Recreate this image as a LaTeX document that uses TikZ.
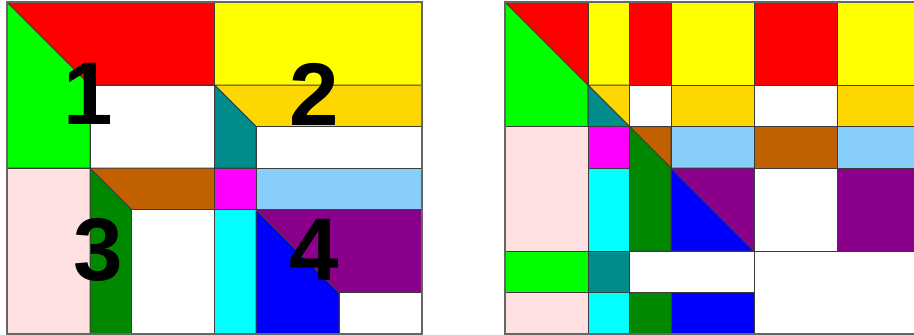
\documentclass[tikz,border=0pt]{standalone}
\usepackage{fontspec}
\setmainfont{Liberation Sans}
\definecolor{cRed}{RGB}{255,0,0}
\definecolor{cGreen}{RGB}{0,255,0}
\definecolor{cYellow}{RGB}{255,255,0}
\definecolor{cGold}{RGB}{255,215,0}
\definecolor{cTeal}{RGB}{0,140,140}
\definecolor{cPink}{RGB}{255,224,224}
\definecolor{cDkGreen}{RGB}{0,136,0}
\definecolor{cBrown}{RGB}{192,96,0}
\definecolor{cMagenta}{RGB}{255,0,255}
\definecolor{cLtBlue}{RGB}{135,206,250}
\definecolor{cCyan}{RGB}{0,255,255}
\definecolor{cBlue}{RGB}{0,0,255}
\definecolor{cPurple}{RGB}{139,0,139}
\definecolor{cLine}{RGB}{60,60,60}
\begin{document}
\begin{tikzpicture}[x=1pt,y=-1pt,
  cell/.style={draw=cLine, line width=1pt, line join=round},
  lbl/.style={font=\fontsize{89}{89}\selectfont\bfseries, inner sep=0pt, text=black}]
\useasboundingbox (0,0) rectangle (914,335);
\clip (0,0) rectangle (914,335);
% ---------- left panel ----------
\begin{scope}[shift={(7pt,-2pt)}, x=41.5pt, y=-41.5pt]
\path[cell, fill=cGreen] (0,0) -- (2,2) -- (2,4) -- (0,4) -- cycle;
\path[cell, fill=cRed] (0,0) -- (5,0) -- (5,2) -- (2,2) -- cycle;
\path[cell, fill=white] (2,2) rectangle (5,4);
\path[cell, fill=cYellow] (5,0) rectangle (10,2);
\path[cell, fill=cGold] (5,2) -- (10,2) -- (10,3) -- (6,3) -- cycle;
\path[cell, fill=cTeal] (5,2) -- (6,3) -- (6,4) -- (5,4) -- cycle;
\path[cell, fill=white] (6,3) rectangle (10,4);
\path[cell, fill=cPink] (0,4) rectangle (2,8);
\path[cell, fill=cDkGreen] (2,4) -- (3,5) -- (3,8) -- (2,8) -- cycle;
\path[cell, fill=cBrown] (2,4) -- (5,4) -- (5,5) -- (3,5) -- cycle;
\path[cell, fill=white] (3,5) rectangle (5,8);
\path[cell, fill=cMagenta] (5,4) rectangle (6,5);
\path[cell, fill=cLtBlue] (6,4) rectangle (10,5);
\path[cell, fill=cCyan] (5,5) rectangle (6,8);
\path[cell, fill=cBlue] (6,5) -- (8,7) -- (8,8) -- (6,8) -- cycle;
\path[cell, fill=cPurple] (6,5) -- (10,5) -- (10,7) -- (8,7) -- cycle;
\path[cell, fill=white] (8,7) rectangle (10,8);
\draw[draw=black!60, line width=1.2pt] (0,0) rectangle (10,8);
\node[lbl] (n1) at (1.95,2.22) {1};
\node[lbl] (n2) at (7.40,2.22) {2};
\node[lbl] (n3) at (2.19,5.98) {3};
\node[lbl] (n4) at (7.40,5.97) {4};
\end{scope}
% ---------- right panel ----------
\begin{scope}[shift={(505pt,-2pt)}, x=41.5pt, y=-41.5pt]
% row 0-2
\path[cell, fill=cGreen] (0,0) -- (2,2) -- (2,3) -- (0,3) -- cycle;
\path[cell, fill=cRed] (0,0) -- (2,0) -- (2,2) -- cycle;
\path[cell, fill=cYellow] (2,0) rectangle (3,2);
\path[cell, fill=cRed] (3,0) rectangle (4,2);
\path[cell, fill=cYellow] (4,0) rectangle (6,2);
\path[cell, fill=cRed] (6,0) rectangle (8,2);
\path[cell, fill=cYellow] (8,0) rectangle (10,2);
% row 2-3
\path[cell, fill=cGold] (2,2) -- (3,2) -- (3,3) -- cycle;
\path[cell, fill=cTeal] (2,2) -- (3,3) -- (2,3) -- cycle;
\path[cell, fill=white] (3,2) rectangle (4,3);
\path[cell, fill=cGold] (4,2) rectangle (6,3);
\path[cell, fill=white] (6,2) rectangle (8,3);
\path[cell, fill=cGold] (8,2) rectangle (10,3);
% row 3-4
\path[cell, fill=cPink] (0,3) rectangle (2,6);
\path[cell, fill=cMagenta] (2,3) rectangle (3,4);
\path[cell, fill=cBrown] (3,3) -- (4,3) -- (4,4) -- cycle;
\path[cell, fill=cDkGreen] (3,3) -- (4,4) -- (4,6) -- (3,6) -- cycle;
\path[cell, fill=cLtBlue] (4,3) rectangle (6,4);
\path[cell, fill=cBrown] (6,3) rectangle (8,4);
\path[cell, fill=cLtBlue] (8,3) rectangle (10,4);
% row 4-6
\path[cell, fill=cCyan] (2,4) rectangle (3,6);
\path[cell, fill=cBlue] (4,4) -- (6,6) -- (4,6) -- cycle;
\path[cell, fill=cPurple] (4,4) -- (6,4) -- (6,6) -- cycle;
\path[cell, fill=white] (6,4) rectangle (8,6);
\path[cell, fill=cPurple] (8,4) rectangle (10,6);
% row 6-7
\path[cell, fill=cGreen] (0,6) rectangle (2,7);
\path[cell, fill=cTeal] (2,6) rectangle (3,7);
\path[cell, fill=white] (3,6) rectangle (6,7);
\path[cell, fill=white] (6,6) rectangle (10,8);
% row 7-8
\path[cell, fill=cPink] (0,7) rectangle (2,8);
\path[cell, fill=cCyan] (2,7) rectangle (3,8);
\path[cell, fill=cDkGreen] (3,7) rectangle (4,8);
\path[cell, fill=cBlue] (4,7) rectangle (6,8);
\draw[draw=black!60, line width=1.2pt] (0,0) rectangle (10,8);
\end{scope}
\end{tikzpicture}
\end{document}
